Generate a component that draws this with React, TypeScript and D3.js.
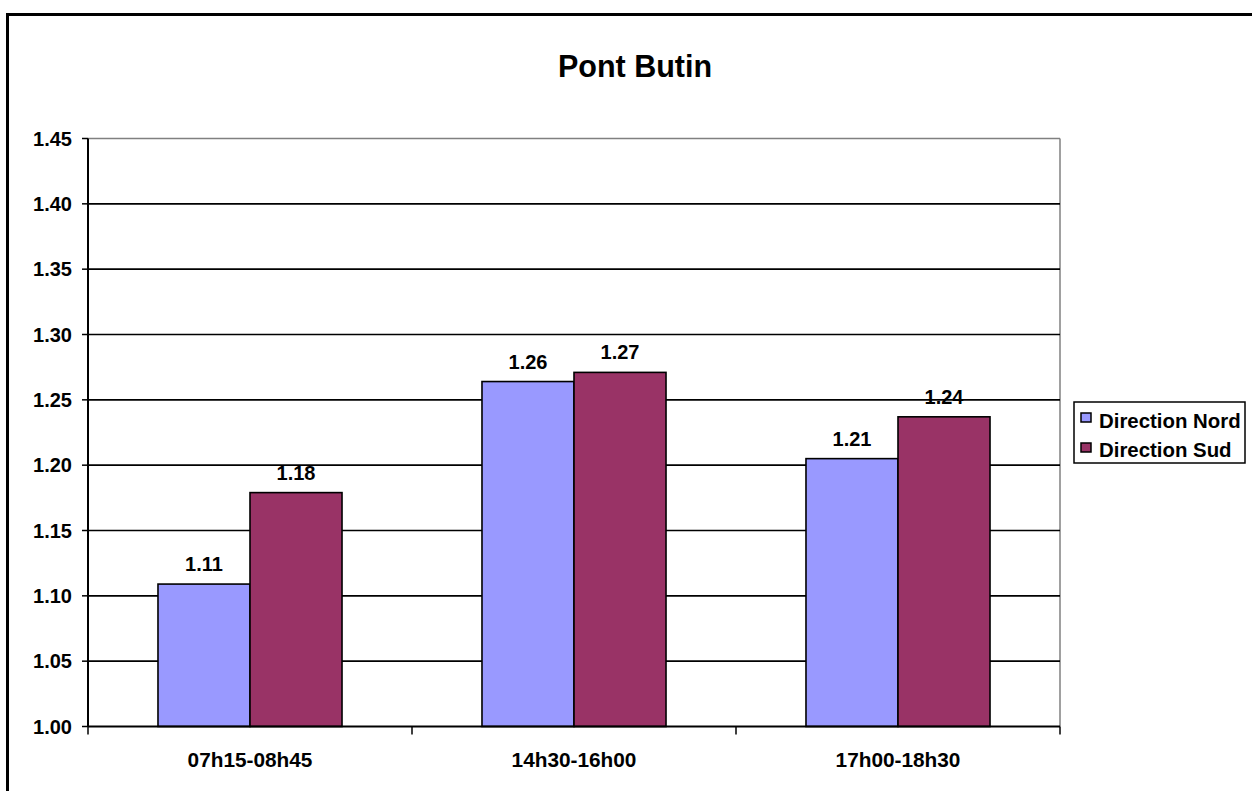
import React from "react";
import * as d3 from "d3";

const categories = ["07h15-08h45", "14h30-16h00", "17h00-18h30"];
const seriesNames = ["Direction Nord", "Direction Sud"];
const nordValues = [1.109, 1.264, 1.205];
const sudValues = [1.179, 1.271, 1.237];
const nordLabels = ["1.11", "1.26", "1.21"];
const sudLabels = ["1.18", "1.27", "1.24"];
const yTicks = [1.0, 1.05, 1.1, 1.15, 1.2, 1.25, 1.3, 1.35, 1.4, 1.45];
const colors = ["#9999FF", "#993366"];

const W = 1252;
const H = 791;
const plot = { left: 88, right: 1060, top: 138.5, bottom: 726.5 };
const FONT = "'Liberation Sans', Arial, sans-serif";

export default function App() {
  const y = d3.scaleLinear().domain([1.0, 1.45]).range([plot.bottom, plot.top]);
  const x0 = d3
    .scaleBand<string>()
    .domain(categories)
    .range([plot.left, plot.right])
    .paddingInner(0.432)
    .paddingOuter(0.216);
  const x1 = d3.scaleBand<string>().domain(seriesNames).range([0, x0.bandwidth()]);
  const step = x0.step();
  const series = [
    { name: seriesNames[0], values: nordValues, labels: nordLabels, color: colors[0] },
    { name: seriesNames[1], values: sudValues, labels: sudLabels, color: colors[1] },
  ];
  const boundaries = d3.range(categories.length + 1).map((i) => plot.left + i * step);

  return (
    <svg
      width={W}
      height={H}
      style={{ position: "absolute", left: 0, top: 0, background: "#fff" }}
      fontFamily={FONT}
    >
      <rect x={0} y={0} width={W} height={H} fill="#fff" />
      <rect x={7.5} y={14.5} width={W + 20} height={H + 20} fill="none" stroke="#000" strokeWidth={3} />

      <text x={635} y={77} textAnchor="middle" fontSize={30.5} fontWeight="bold">
        Pont Butin
      </text>

      <line x1={plot.left} x2={plot.right} y1={plot.top} y2={plot.top} stroke="#808080" strokeWidth={1.5} />
      <line x1={plot.right} x2={plot.right} y1={plot.top} y2={plot.bottom} stroke="#808080" strokeWidth={1.5} />

      {yTicks.slice(1, -1).map((t) => (
        <line key={t} x1={plot.left} x2={plot.right} y1={y(t)} y2={y(t)} stroke="#000" strokeWidth={1.6} />
      ))}

      {categories.map((c, i) => (
        <g key={c}>
          {series.map((s) => {
            const bx = (x0(c) as number) + (x1(s.name) as number);
            const by = y(s.values[i]);
            return (
              <g key={s.name}>
                <rect
                  x={bx}
                  y={by}
                  width={x1.bandwidth()}
                  height={plot.bottom - by}
                  fill={s.color}
                  stroke="#000"
                  strokeWidth={1.6}
                />
                <text
                  x={bx + x1.bandwidth() / 2}
                  y={by - 13}
                  textAnchor="middle"
                  fontSize={20}
                  fontWeight="bold"
                >
                  {s.labels[i]}
                </text>
              </g>
            );
          })}
        </g>
      ))}

      <line x1={plot.left} x2={plot.left} y1={plot.top} y2={plot.bottom} stroke="#000" strokeWidth={2} />
      <line x1={plot.left} x2={plot.right} y1={plot.bottom} y2={plot.bottom} stroke="#000" strokeWidth={2} />
      {yTicks.map((t) => (
        <g key={t}>
          <line x1={plot.left - 6} x2={plot.left} y1={y(t)} y2={y(t)} stroke="#000" strokeWidth={1.5} />
          <text x={72} y={y(t) + 7} textAnchor="end" fontSize={20} fontWeight="bold">
            {t.toFixed(2)}
          </text>
        </g>
      ))}
      {boundaries.map((bx, i) => (
        <line key={i} x1={bx} x2={bx} y1={plot.bottom} y2={plot.bottom + 8} stroke="#000" strokeWidth={1.5} />
      ))}
      {categories.map((c) => (
        <text
          key={c}
          x={(x0(c) as number) + x0.bandwidth() / 2}
          y={767}
          textAnchor="middle"
          fontSize={20.8}
          fontWeight="bold"
        >
          {c}
        </text>
      ))}

      <rect x={1074} y={402} width={171} height={61} fill="#fff" stroke="#000" strokeWidth={1.5} />
      {series.map((s, i) => (
        <g key={s.name}>
          <rect x={1081} y={413 + i * 30} width={10} height={9} fill={s.color} stroke="#000" strokeWidth={1.5} />
          <text x={1099} y={427.5 + i * 29.5} fontSize={20.4} fontWeight="bold">
            {s.name}
          </text>
        </g>
      ))}
    </svg>
  );
}
